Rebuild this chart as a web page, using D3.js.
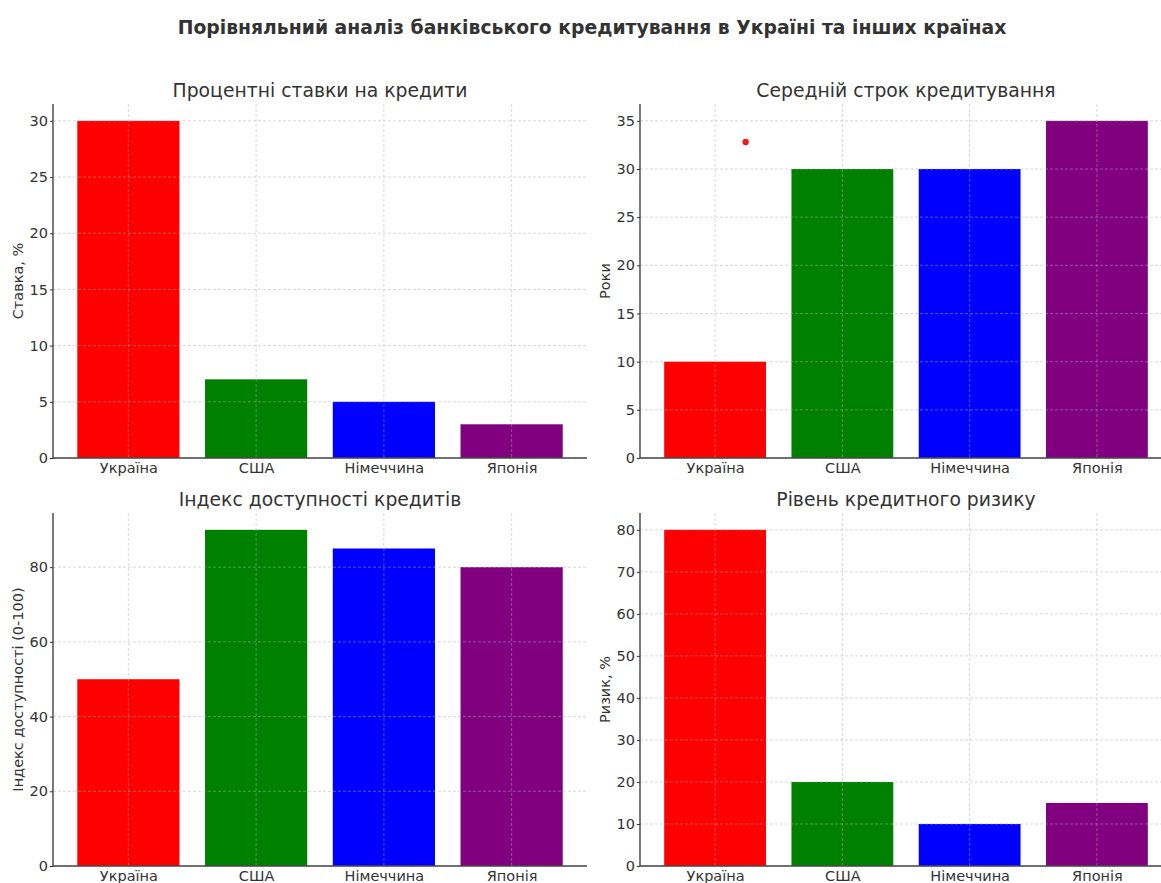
<!DOCTYPE html>
<html>
<head>
<meta charset="utf-8">
<script src="https://cdn.jsdelivr.net/npm/d3@7"></script>
<style>
  html, body { margin: 0; padding: 0; background: #fff; overflow: hidden; }
  svg { display: block; font-family: "DejaVu Sans", sans-serif; }
</style>
</head>
<body>
<svg id="chart" width="1161" height="883"></svg>
<script>
// Countries compared in every panel
const countries = ["Україна", "США", "Німеччина", "Японія"];
const barColors = ["#ff0000", "#008000", "#0000ff", "#800080"];

// Panel values
const interestRates = [30, 7, 5, 3];          // %
const loanTerms = [10, 30, 30, 35];           // years
const accessIndex = [50, 90, 85, 80];         // 0-100
const creditRisk = [80, 20, 10, 15];          // %

// Tick labels for each panel's value axis
const ticksRates = [0, 5, 10, 15, 20, 25, 30];
const ticksTerms = [0, 5, 10, 15, 20, 25, 30, 35];
const ticksAccess = [0, 20, 40, 60, 80];
const ticksRisk = [0, 10, 20, 30, 40, 50, 60, 70, 80];

// Single marker point on the loan-term panel (category offset, value)
const termMarker = { offset: 0.24, value: 32.8 };

const mainTitle = "Порівняльний аналіз банківського кредитування в Україні та інших країнах";

const panels = [
  { title: "Процентні ставки на кредити", ylabel: "Ставка, %", values: interestRates, ticks: ticksRates,
    box: { x0: 53, x1: 587, y0: 104, y1: 458 } },
  { title: "Середній строк кредитування", ylabel: "Роки", values: loanTerms, ticks: ticksTerms,
    box: { x0: 640, x1: 1172, y0: 104, y1: 458 }, marker: termMarker },
  { title: "Індекс доступності кредитів", ylabel: "Індекс доступності (0-100)", values: accessIndex, ticks: ticksAccess,
    box: { x0: 53, x1: 587, y0: 513, y1: 866 } },
  { title: "Рівень кредитного ризику", ylabel: "Ризик, %", values: creditRisk, ticks: ticksRisk,
    box: { x0: 640, x1: 1172, y0: 513, y1: 866 } }
];

const svg = d3.select("#chart");

svg.append("text")
  .attr("x", 592).attr("y", 34)
  .attr("text-anchor", "middle")
  .attr("font-size", 18.8).attr("font-weight", "bold")
  .attr("fill", "#333")
  .text(mainTitle);

const barWidth = 0.8;

panels.forEach(p => {
  const b = p.box;
  const n = countries.length;
  const pad = (n - 1 + barWidth) * 0.05;
  const x = d3.scaleLinear()
    .domain([-barWidth / 2 - pad, n - 1 + barWidth / 2 + pad])
    .range([b.x0, b.x1]);
  const y = d3.scaleLinear()
    .domain([0, d3.max(p.values) * 1.05])
    .range([b.y1, b.y0]);

  const g = svg.append("g");

  // bars
  g.selectAll("rect.bar")
    .data(p.values)
    .join("rect")
    .attr("class", "bar")
    .attr("x", (d, i) => x(i - barWidth / 2))
    .attr("width", (d, i) => x(i + barWidth / 2) - x(i - barWidth / 2))
    .attr("y", d => y(d))
    .attr("height", d => y(0) - y(d))
    .attr("fill", (d, i) => barColors[i]);

  // dashed grid drawn over the bars
  const grid = g.append("g")
    .attr("stroke", "#b0b0b0")
    .attr("stroke-width", 0.8)
    .attr("stroke-dasharray", "3,2")
    .attr("opacity", 0.6);
  grid.selectAll("line.h")
    .data(p.ticks)
    .join("line")
    .attr("x1", b.x0).attr("x2", b.x1)
    .attr("y1", d => y(d)).attr("y2", d => y(d));
  grid.selectAll("line.v")
    .data(d3.range(n))
    .join("line")
    .attr("x1", d => x(d)).attr("x2", d => x(d))
    .attr("y1", b.y0).attr("y2", b.y1);

  // marker point
  if (p.marker) {
    g.append("circle")
      .attr("cx", x(p.marker.offset))
      .attr("cy", y(p.marker.value))
      .attr("r", 3.2)
      .attr("fill", "#ee1c1c");
  }

  // y axis
  const yAxis = d3.axisLeft(y).tickValues(p.ticks).tickSize(3).tickPadding(2).tickFormat(d3.format("d"));
  const ya = g.append("g").attr("transform", `translate(${b.x0},0)`).call(yAxis);
  ya.select(".domain").remove();
  ya.selectAll("line").attr("stroke", "#333");
  ya.selectAll("text").attr("font-size", 14.5).attr("fill", "#333")
    .attr("font-family", "DejaVu Sans, sans-serif");

  // x axis
  const xAxis = d3.axisBottom(x).tickValues(d3.range(n)).tickSize(0).tickPadding(5)
    .tickFormat(i => countries[i]);
  const xa = g.append("g").attr("transform", `translate(0,${b.y1})`).call(xAxis);
  xa.select(".domain").remove();
  xa.selectAll("text").attr("font-size", 14.5).attr("fill", "#333")
    .attr("font-family", "DejaVu Sans, sans-serif");

  // spines: left and bottom
  g.append("line")
    .attr("x1", b.x0).attr("x2", b.x0)
    .attr("y1", b.y0).attr("y2", b.y1)
    .attr("stroke", "#333").attr("stroke-width", 1.3);
  g.append("line")
    .attr("x1", b.x0).attr("x2", b.x1)
    .attr("y1", b.y1).attr("y2", b.y1)
    .attr("stroke", "#444").attr("stroke-width", 1.3);

  // subplot title
  g.append("text")
    .attr("x", (b.x0 + b.x1) / 2)
    .attr("y", b.y0 - 7)
    .attr("text-anchor", "middle")
    .attr("font-size", 18.8)
    .attr("fill", "#333")
    .text(p.title);

  // y label
  g.append("text")
    .attr("transform", `translate(${b.x0 - 30},${(b.y0 + b.y1) / 2}) rotate(-90)`)
    .attr("text-anchor", "middle")
    .attr("font-size", 14.5)
    .attr("fill", "#333")
    .text(p.ylabel);
});
</script>
</body>
</html>
